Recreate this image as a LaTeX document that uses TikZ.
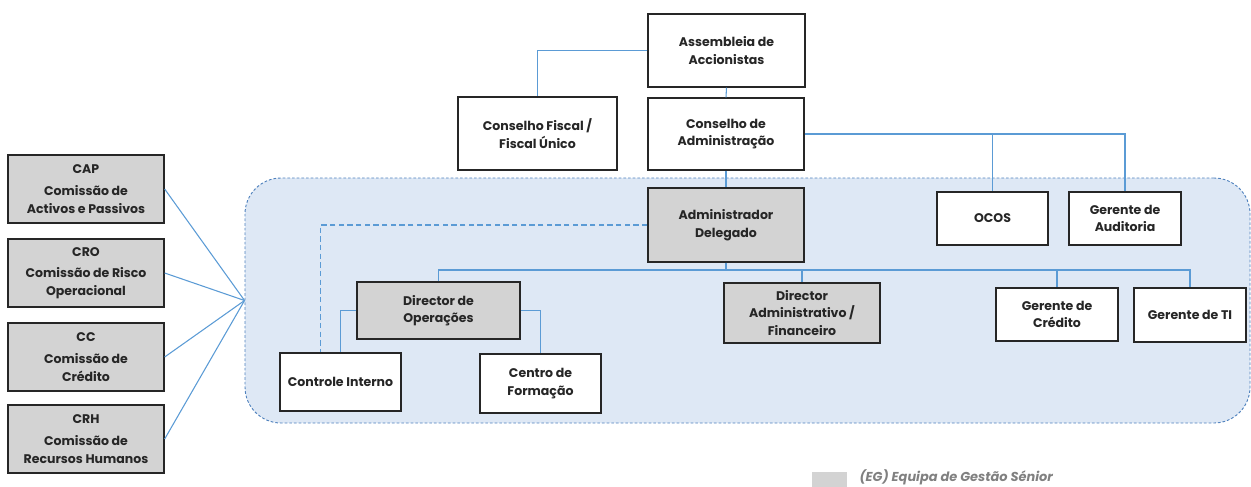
\documentclass[tikz,border=0pt]{standalone}
\usepackage{fontspec}
\setmainfont{Poppins}
\usetikzlibrary{positioning}
\definecolor{linkblue}{HTML}{5B9BD5}
\definecolor{egfill}{HTML}{DEE8F5}
\definecolor{egline}{HTML}{4F81BD}
\definecolor{boxgray}{HTML}{D3D3D3}
\begin{document}
\begin{tikzpicture}[x=0.75pt, y=-0.75pt,
    box/.style={draw=black!85, line width=1pt, fill=white, align=center, inner sep=0pt,
      font=\fontsize{9.4}{13.2}\selectfont\bfseries, text=black!85},
    senior/.style={box, fill=boxgray},
    sz/.style 2 args={minimum width=#1*0.75pt, minimum height=#2*0.75pt},
    region/.style={draw=egline, fill=egfill, line width=0.7pt, dash pattern=on 2pt off 1.5pt, rounded corners=27pt},
    link/.style={linkblue, line width=0.8pt}]
    \useasboundingbox (0,0) rectangle (1251,486);

    % Senior management area
    \node[region, sz={1005}{245}] (eg) at (747.5,300.5) {};

    % Board level
    \node[box, sz={157}{73}] (asm) at (726.5,50.5) {Assembleia de\\Accionistas};
    \node[box, sz={156}{72}] (ca) at (726,134) {Conselho de\\Administração};
    \node[box, sz={159}{73}] (cf) at (537.5,133.5) {Conselho Fiscal /\\Fiscal Único};

    % Inside the area
    \node[senior, sz={156}{74}] (ad) at (726,225) {Administrador\\Delegado};
    \node[box, sz={111}{53}] (ocos) at (992.5,218.5) {OCOS};
    \node[box, sz={112}{53}] (aud) at (1125,218.5) {Gerente de\\Auditoria};
    \node[senior, sz={163}{57}] (dop) at (438.5,310.5) {Director de\\Operações};
    \node[senior, sz={156}{60}] (daf) at (802,313) {Director\\Administrativo /\\Financeiro};
    \node[box, sz={122}{53}] (gc) at (1057,314.5) {Gerente de\\Crédito};
    \node[box, sz={112}{54}] (gti) at (1190,315) {Gerente de TI};
    \node[box, sz={121}{58}] (ci) at (340.5,382) {Controle Interno};
    \node[box, sz={121}{59}] (cfo) at (540.5,383.5) {Centro de\\Formação};

    % Committees
    \node[senior, sz={156}{68}] (cap) at (86,189) {CAP\\[3pt]Comissão de\\Activos e Passivos};
    \node[senior, sz={156}{68}] (cro) at (86,273) {CRO\\[3pt]Comissão de Risco\\Operacional};
    \node[senior, sz={156}{68}] (cc) at (86,357) {CC\\[3pt]Comissão de\\Crédito};
    \node[senior, sz={156}{68}] (crh) at (86,439) {CRH\\[3pt]Comissão de\\Recursos Humanos};

    % Legend
    \node[fill=boxgray, inner sep=0pt, sz={35}{16}] (key) at (829.5,480) {};
    \node[right=9pt of key, yshift=2pt, inner sep=0pt, text=black!50, font=\fontsize{9.7}{11}\selectfont\bfseries\itshape] (keytext) {(EG) Equipa de Gestão Sénior};

    % Connectors
    \coordinate (bus) at (726,270);
    \draw[link] (asm.west) -| (cf.north);
    \draw[link] (asm.south) -- (ca.north);
    \draw[link] (ca.south) -- (ad.north);
    \draw[link] (ca.east) -| (aud.north);
    \draw[link] (ocos.north |- ca.east) -- (ocos.north);
    \draw[link] (ad.south) -- (bus);
    \draw[link] (dop.north) |- (bus) -| (gti.north);
    \draw[link] (daf.north |- bus) -- (daf.north);
    \draw[link] (gc.north |- bus) -- (gc.north);
    \draw[link] (dop.west) -| (ci.north);
    \draw[link] (dop.east) -| (cfo.north);
    \draw[link, dash pattern=on 4pt off 2.5pt] (ad.west) -| ([xshift=-15pt]ci.north);

    % Committees to the area
    \foreach \c in {cap, cro, cc, crh}
        \draw[link] (\c.east) -- (eg.west);
\end{tikzpicture}
\end{document}
